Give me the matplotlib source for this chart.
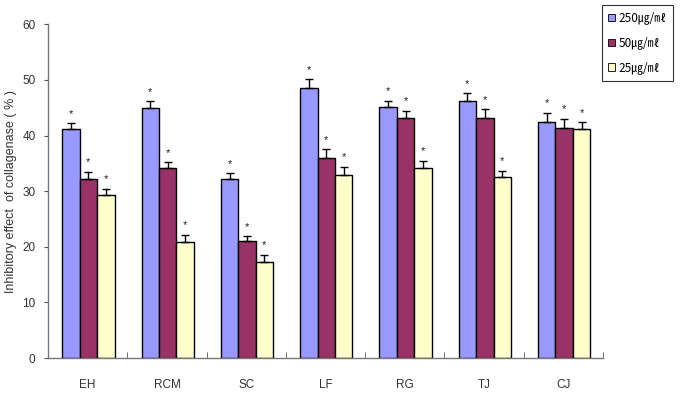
import matplotlib
matplotlib.use("Agg")
import matplotlib.pyplot as plt
import numpy as np
from matplotlib.ticker import FixedLocator

categories = ["EH", "RCM", "SC", "LF", "RG", "TJ", "CJ"]
series_labels = ["250㎍/㎖", "50㎍/㎖", "25㎍/㎖"]
v250 = [41.1, 44.9, 32.2, 48.6, 45.2, 46.3, 42.5]
v50 = [32.2, 34.2, 21.1, 36.0, 43.2, 43.2, 41.4]
v25 = [29.3, 20.8, 17.3, 33.0, 34.2, 32.5, 41.1]
e250 = [1.1, 1.3, 1.0, 1.5, 1.1, 1.3, 1.6]
e50 = [1.3, 1.0, 0.8, 1.5, 1.3, 1.5, 1.6]
e25 = [1.1, 1.4, 1.3, 1.4, 1.3, 1.2, 1.3]
colors = ["#9999FF", "#993366", "#FFFFCC"]

plt.rcParams['font.family'] = ['Liberation Sans', 'Noto Sans CJK KR', 'DejaVu Sans']

fig = plt.figure(figsize=(6.81, 3.93), dpi=100)
ax = fig.add_axes([0.0705, 0.089, 0.815, 0.849])

x = np.arange(len(categories))
w = 0.22
vals = [v250, v50, v25]
errs = [e250, e50, e25]
for i, (v, e, c, lab) in enumerate(zip(vals, errs, colors, series_labels)):
    pos = x + (i - 1) * w + 0.01
    ax.bar(pos, v, w, color=c, edgecolor="black", linewidth=1.0, label=lab, zorder=2)
    ax.errorbar(pos, v, yerr=[np.zeros(len(v)), e], fmt="none", ecolor="black",
                elinewidth=1.0, capsize=3, capthick=1.0, zorder=3)
    for p, vv, ee in zip(pos, v, e):
        ax.text(p, vv + ee + 0.8, "*", ha="center", va="bottom", fontsize=8, color="#222222")

ax.set_xlim(-0.5, len(categories) - 0.5)
ax.set_ylim(0, 60)
ax.set_yticks(np.arange(0, 61, 10))
ax.set_xticks(x)
ax.set_xticklabels(categories, fontsize=8.5, color="#333333")
ax.tick_params(axis="x", which="major", length=0, pad=15)
ax.xaxis.set_minor_locator(FixedLocator(np.arange(0.5, len(categories), 1.0)))
ax.tick_params(axis="x", which="minor", direction="in", length=4, color="#555555")
ax.tick_params(axis="y", direction="out", length=3, labelsize=8.5, colors="#333333", color="#555555", pad=6)
for s in ["top", "right"]:
    ax.spines[s].set_visible(False)
for s in ["left", "bottom"]:
    ax.spines[s].set_color("#777777")
    ax.spines[s].set_linewidth(1.0)
ax.set_ylabel("Inhibitory effect  of collagenase ( % )", fontsize=9, color="#333333", labelpad=4)

leg = fig.legend(loc="upper right", bbox_to_anchor=(0.988, 0.987), frameon=True,
                 fancybox=False, edgecolor="black", handlelength=0.55, handleheight=0.55,
                 handletextpad=0.3, labelspacing=1.0, borderpad=0.55, borderaxespad=0,
                 prop={'family': ['Noto Sans CJK KR', 'DejaVu Sans'], 'size': 8.5})
leg.get_frame().set_linewidth(0.8)
for h in leg.legend_handles:
    h.set_edgecolor("black")
    h.set_linewidth(0.6)

fig.savefig("out.png", dpi=100)
